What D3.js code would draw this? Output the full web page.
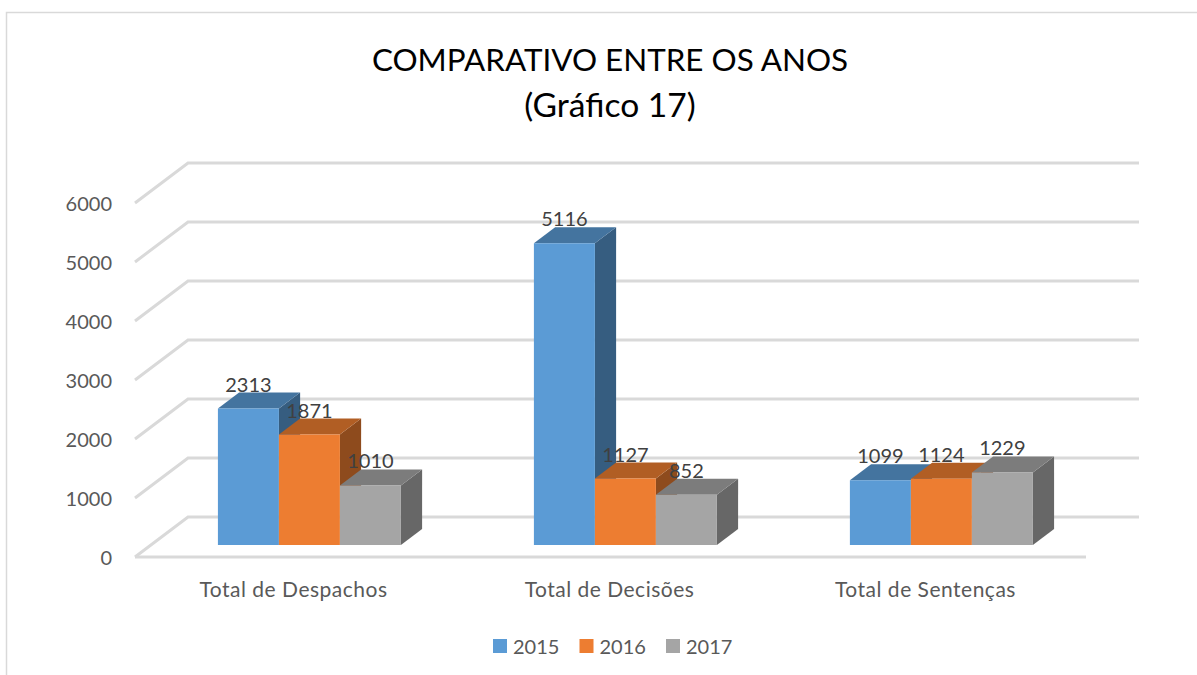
<!DOCTYPE html>
<html>
<head>
<meta charset="utf-8">
<script src="https://cdnjs.cloudflare.com/ajax/libs/d3/7.8.5/d3.min.js"></script>
<style>
  html, body { margin: 0; padding: 0; background: #fff; overflow: hidden; }
  text { font-family: Lato, "Open Sans", sans-serif; }
</style>
</head>
<body>
<div id="chart"></div>
<script>
var categories = ["Total de Despachos", "Total de Decisões", "Total de Sentenças"];
var years = ["2015", "2016", "2017"];
var values2015 = [2313, 5116, 1099];
var values2016 = [1871, 1127, 1124];
var values2017 = [1010, 852, 1229];
var yTicks = [0, 1000, 2000, 3000, 4000, 5000, 6000];
var series = [values2015, values2016, values2017];

var width = 1197, height = 675;

// face colours per series: front, top, side
var front = ["#5b9bd5", "#ed7d31", "#a5a5a5"],
    top_ = ["#44749f", "#b15e24", "#7c7c7c"],
    side = ["#365d80", "#8e4b1d", "#676767"];

var svg = d3.select("#chart").append("svg")
    .attr("width", width)
    .attr("height", height);

// chart frame
svg.append("rect")
    .attr("x", 6.5).attr("y", 12.5)
    .attr("width", 1300).attr("height", 800)
    .attr("fill", "#fff")
    .attr("stroke", "#d9d9d9")
    .attr("stroke-width", 1.5);

// title
var title = svg.append("text")
    .attr("text-anchor", "middle")
    .attr("fill", "#000");
title.append("tspan").attr("x", 610).attr("y", 71)
    .style("font-size", "31.4px").text("COMPARATIVO ENTRE OS ANOS");
title.append("tspan").attr("x", 610).attr("y", 117)
    .style("font-size", "33.6px").text("(Gráfico 17)");

// scales work on the front plane of the floor, depth is added by project
var x0 = d3.scaleBand().domain(categories).range([135.5, 1083.5])
    .paddingInner(0.4209).paddingOuter(0.2105);
var x1 = d3.scaleBand().domain(d3.range(years.length)).range([0, x0.bandwidth()]);
var y = d3.scaleLinear().domain([0, 6000]).range([557, 203]);

var depthX = 53, depthY = 40;
function project(px, v, d) { return [px + depthX * d, y(v) - depthY * d]; }
var line = d3.line();

// gridlines on the side wall and back wall
var grid = svg.append("g").attr("fill", "none")
    .attr("stroke", "#d9d9d9").attr("stroke-width", 3);
yTicks.forEach(function(t) {
  grid.append("path").attr("d", line([
    project(135, t, 0), project(135, t, 1), project(1086, t, 1)
  ]));
});
grid.append("path").attr("d", line([project(135, 0, 0), project(1086, 0, 0)]));

// value axis
var yAxis = d3.axisLeft(y).tickValues(yTicks).tickSize(0).tickPadding(0)
    .tickFormat(d3.format("d"));
var yG = svg.append("g").attr("transform", "translate(112,1.5)").call(yAxis);
yG.select(".domain").remove();
yG.selectAll("text").attr("fill", "#595959").style("font-size", "20px");

// bars, drawn left to right so the next bar covers the side of the last
var d0 = 0.3, d1 = 0.7;
categories.forEach(function(cat, c) {
  series.forEach(function(vals, s) {
    var v = vals[c],
        l = x0(cat) + x1(s),
        r = l + x1.bandwidth();
    var g = svg.append("g").attr("class", "bar");
    g.append("path").attr("fill", side[s]).attr("d", line([
      project(r, 0, d0), project(r, 0, d1), project(r, v, d1), project(r, v, d0)
    ]) + "Z");
    g.append("path").attr("fill", top_[s]).attr("d", line([
      project(l, v, d0), project(l, v, d1), project(r, v, d1), project(r, v, d0)
    ]) + "Z");
    g.append("path").attr("fill", front[s]).attr("d", line([
      project(l, 0, d0), project(r, 0, d0), project(r, v, d0), project(l, v, d0)
    ]) + "Z");
  });
});

// data labels on top of everything
categories.forEach(function(cat, c) {
  series.forEach(function(vals, s) {
    var p = project(x0(cat) + x1(s) + x1.bandwidth() / 2, vals[c], d0);
    svg.append("text")
        .attr("x", p[0]).attr("y", p[1] - 17)
        .attr("text-anchor", "middle")
        .attr("fill", "#404040")
        .style("font-size", "20px")
        .text(vals[c]);
  });
});

// category labels
categories.forEach(function(cat) {
  svg.append("text")
      .attr("x", x0(cat) + x0.bandwidth() / 2).attr("y", 597)
      .attr("text-anchor", "middle")
      .attr("fill", "#595959")
      .style("font-size", "21px")
      .style("letter-spacing", "0.5px")
      .text(cat);
});

// legend
var legendX = d3.scalePoint().domain(years).range([493, 666]);
years.forEach(function(yr, i) {
  var g = svg.append("g").attr("transform", "translate(" + legendX(yr) + ",639)");
  g.append("rect").attr("width", 14).attr("height", 14).attr("fill", front[i]);
  g.append("text").attr("x", 20).attr("y", 14.5)
      .attr("fill", "#595959")
      .style("font-size", "20px")
      .text(yr);
});
</script>
</body>
</html>
